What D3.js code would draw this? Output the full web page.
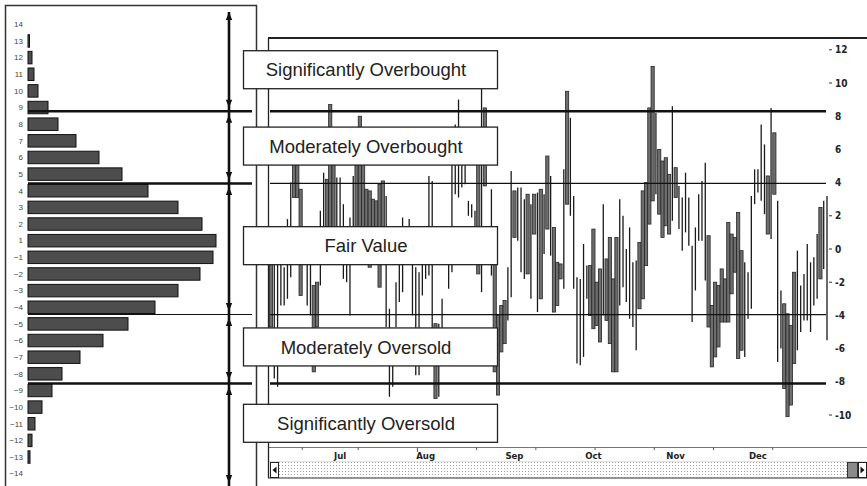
<!DOCTYPE html>
<html><head><meta charset="utf-8">
<script src="https://cdn.jsdelivr.net/npm/d3@7"></script>
<style>body{margin:0;background:#fff;} svg{display:block;}</style>
</head><body>
<svg id="c" width="867" height="486"></svg>
<script>
// ---------- data ----------
const histCats = [14,13,12,11,10,9,8,7,6,5,4,3,2,1,-1,-2,-3,-4,-5,-6,-7,-8,-9,-10,-11,-12,-13,-14];
const histCounts = [0,1.5,4,6,10,20,30,48,71,94,120,150,174,188,185,172,150,127,100,75,52,34,24,14,7,4,2,0];

const highs = [
 0.5,0.8,0.6,1.0,-1.1,1.8,4.0,6.5,6.0,3.6,
 1.2,1.0,0.9,-2.2,-2.0,2.3,4.6,4.2,8.7,6.5,
 4.3,4.3,2.7,0.5,1.9,4.4,6.5,8.0,6.8,3.6,
 3.5,3.0,2.9,3.9,4.1,3.2,-3.6,-5.0,-2.0,0.5,
 1.9,1.0,1.8,0.5,-1.1,-1.4,0.5,0.8,4.4,4.1,
 -4.5,-4.5,-3.0,1.0,1.0,6.0,7.5,9.0,6.5,6.0,
 2.9,2.7,2.3,6.0,10.5,8.5,1.0,3.6,0.5,-4.0,
 -3.4,-3.1,-1.1,4.7,3.5,3.7,3.7,3.0,3.3,2.7,
 3.3,3.4,3.6,3.3,5.6,4.4,1.3,-0.8,-0.9,4.8,
 9.5,7.9,3.2,-1.7,-1.8,0.3,-1.0,-1.0,1.2,-2.0,
 -1.2,2.7,-0.6,0.7,-1.8,0.7,3.0,2.0,0.0,1.3,
 -0.8,-0.7,0.4,3.5,4.0,8.5,11.0,8.2,6.0,5.3,
 5.5,4.5,8.6,4.9,3.8,3.1,4.6,3.1,0.2,1.3,
 3.3,4.1,5.2,0.8,-3.4,-2.0,-2.2,-1.2,-1.8,1.6,
 0.9,0.7,2.2,-0.1,-0.8,-1.4,3.2,4.8,4.8,7.5,
 6.3,4.4,8.5,7.0,2.9,-2.5,-3.3,-3.9,-4.6,-1.4,
 -0.1,-2.2,-1.5,0.3,-0.8,-0.5,0.9,2.5,2.9,3.2
];
const lows = [
 -4.7,-7.8,-8.3,-3.4,-3.4,-3.0,-1.7,3.1,3.1,-2.8,
 -0.8,-3.4,-4.0,-7.4,-4.7,-2.2,1.0,0.8,0.5,1.0,
 1.2,0.6,-1.8,-2.0,-4.0,0.8,1.0,1.2,0.8,1.0,
 -1.1,0.5,1.0,-2.3,0.8,-4.7,-8.9,-8.3,-4.7,-3.2,
 -2.6,-0.5,-0.5,-4.0,-7.6,-7.6,-2.8,-1.8,-1.6,-4.8,
 -9.0,-8.9,-5.5,-0.5,-2.4,-1.4,3.3,3.1,3.7,3.9,
 2.0,1.9,1.0,-1.5,-2.6,3.8,-0.5,-1.6,-7.4,-8.8,
 -6.2,-5.7,-4.3,-2.9,0.7,0.5,-1.4,-1.8,-1.5,-3.0,
 0.9,-3.8,-3.0,-0.3,1.2,-0.4,-3.8,-3.4,-1.8,-2.4,
 2.7,2.0,-2.4,-6.9,-7.0,-6.5,-3.0,-4.0,-4.8,-4.6,
 -5.6,-4.0,-4.3,-5.7,-7.4,-7.4,-3.4,-2.3,-3.2,-4.2,
 -4.7,-6.1,-3.6,-3.0,-1.0,1.5,2.9,3.3,2.1,0.7,
 1.4,0.9,1.7,3.1,1.2,-0.1,1.0,0.2,-4.4,-2.5,
 0.5,0.5,-1.9,-4.7,-7.1,-6.5,-5.9,-4.4,-4.4,-4.4,
 -2.7,-1.4,-6.6,-6.1,-6.5,-4.2,-3.6,2.7,3.4,2.9,
 2.1,0.9,0.6,3.3,-6.8,-6.0,-8.4,-10.1,-9.4,-6.9,
 -6.1,-5.0,-4.3,-4.3,-5.0,-3.4,-3.0,-1.8,-1.2,-5.5
];
// d = down session, u = up session
const sessions = (
 "duuuuuuddd" + "uuudduuddd" + "uuuuuudddd" + "ddddduuuuu" + "uuuuuuuuuu" +
 "duuuuuuuuu" + "uuududuudd" + "dduuduuudu" + "dudududddu" + "duuuuuuddd" +
 "dudddduuuu" + "uudddddudd" + "dduduuuuuu" + "uuuddddddd" + "dddduuuuuu" +
 "ududuudddd" + "uuuuuuuduu").split("");

const levels = [8.3, 3.95, -3.95, -8.1];
const zoneLabels = ["Significantly Overbought","Moderately Overbought","Fair Value","Moderately Oversold","Significantly Oversold"];
const zoneCenters = [10.8, 6.2, 0.2, -5.9, -10.5];
const yTicks = [12,10,8,6,4,2,0,-2,-4,-6,-8,-10];
const yTicksMarked = [12,10,2,0,-2,-10];
const months = ["Jul","Aug","Sep","Oct","Nov","Dec"];
const monthDays = [21,47,74,98,123,148];
const axisTickDays = [9.5,26.5,44.5,62.5,80.5,98.5,116.5,134.5,152.5];

// ---------- drawing ----------
const svg = d3.select("#c");
const y = d3.scaleLinear().domain([-10,12]).range([415,49.8]);
const x = d3.scaleLinear().domain([0, highs.length-1]).range([271,827]);
const hy = d3.scaleBand().domain(histCats).range([16,482]).paddingInner(0.25).paddingOuter(0.125);
const hx = d3.scaleLinear().domain([0,200]).range([28,228]);

const defs = svg.append("defs");
const pat = defs.append("pattern").attr("id","dots").attr("width",3).attr("height",3).attr("patternUnits","userSpaceOnUse");
pat.append("rect").attr("width",3).attr("height",3).attr("fill","#fff");
pat.append("rect").attr("width",1).attr("height",1).attr("fill","#a0a0a0");

// left panel
const left = svg.append("g");
left.append("rect").attr("x",5.5).attr("y",5.5).attr("width",251).attr("height",490)
  .attr("fill","none").attr("stroke","#333").attr("stroke-width",1.5);

left.selectAll("rect.hb").data(histCats.map((c,i)=>({c,v:histCounts[i]})).filter(d=>d.v>0))
  .enter().append("rect").attr("class","hb")
  .attr("x",hx(0)).attr("y",d=>hy(d.c)).attr("width",d=>hx(d.v)-hx(0)).attr("height",hy.bandwidth())
  .attr("fill","#4d4d4d").attr("stroke","#111").attr("stroke-width",1);

left.selectAll("text.hl").data(histCats).enter().append("text").attr("class","hl")
  .attr("x",23).attr("y",d=>hy(d)+hy.bandwidth()/2).attr("dy","0.35em")
  .attr("text-anchor","end").attr("font-family","Liberation Sans, Arial, sans-serif")
  .attr("font-size",8).attr("fill","#444")
  .text(d=> d<0 ? "\u2212"+Math.abs(d) : String(d));

const leftW = [2.6,2.4,1.1,2.6];
left.selectAll("line.lv").data(levels).enter().append("line")
  .attr("x1",28).attr("x2",252).attr("y1",d=>y(d)).attr("y2",d=>y(d))
  .attr("stroke","#111").attr("stroke-width",(d,i)=>leftW[i]);

// arrow axis
const ax = 229;
left.append("line").attr("x1",ax).attr("x2",ax).attr("y1",12).attr("y2",486)
  .attr("stroke","#111").attr("stroke-width",2.6);
function tri(tipY, dir){ // dir -1 up, +1 down
  const b = tipY - dir*8;
  return `M${ax},${tipY} L${ax-3.2},${b} L${ax+3.2},${b} Z`;
}
const tips = [[12,-1],[483,1]];
levels.forEach(L=>{ tips.push([y(L)-3.5,1]); tips.push([y(L)+3.5,-1]); });
left.selectAll("path.ar").data(tips).enter().append("path").attr("d",d=>tri(d[0],d[1])).attr("fill","#111");

// right chart
const right = svg.append("g");
// bottom time axis
right.append("line").attr("x1",268).attr("x2",867).attr("y1",447.5).attr("y2",447.5).attr("stroke","#777").attr("stroke-width",1);
right.append("rect").attr("x",279).attr("y",461.5).attr("width",568).attr("height",16).attr("fill","url(#dots)");
right.append("line").attr("x1",268).attr("x2",867).attr("y1",478).attr("y2",478).attr("stroke","#333").attr("stroke-width",1);
right.append("line").attr("x1",268).attr("x2",867).attr("y1",461.5).attr("y2",461.5).attr("stroke","#ccc").attr("stroke-width",0.6);
right.append("rect").attr("x",270.5).attr("y",462.5).attr("width",8).attr("height",15).attr("fill","#fff").attr("stroke","#222");
right.append("path").attr("d","M272.5,470 L276.5,466.5 L276.5,473.5 Z").attr("fill","#111");
right.append("rect").attr("x",847.5).attr("y",462.5).attr("width",10).attr("height",15).attr("fill","#8a8a8a").attr("stroke","#333");
right.append("rect").attr("x",858.5).attr("y",462.5).attr("width",8).attr("height",15).attr("fill","#fff").attr("stroke","#222");
right.append("path").attr("d","M864.5,470 L860.5,466.5 L860.5,473.5 Z").attr("fill","#111");
right.selectAll("line.at").data(axisTickDays).enter().append("line")
  .attr("x1",d=>x(d)).attr("x2",d=>x(d)).attr("y1",447.5).attr("y2",(d,i)=>i===2?452:450)
  .attr("stroke","#555").attr("stroke-width",1);
right.selectAll("text.mo").data(months).enter().append("text")
  .attr("x",(d,i)=>x(monthDays[i])).attr("y",458.5).attr("text-anchor","middle")
  .attr("font-family","DejaVu Sans Condensed, DejaVu Sans, sans-serif").attr("font-weight","bold")
  .attr("font-size",9.5).attr("fill","#222").text(d=>d);

// frame
right.append("line").attr("x1",268).attr("x2",867).attr("y1",38).attr("y2",38).attr("stroke","#222").attr("stroke-width",2);
right.append("line").attr("x1",268.5).attr("x2",268.5).attr("y1",38).attr("y2",478).attr("stroke","#222").attr("stroke-width",1.3);

// bars
const bars = highs.map((h,i)=>({i,h,l:lows[i],s:sessions[i]}));
right.selectAll("line.ub").data(bars.filter(d=>d.s==="u")).enter().append("line")
  .attr("x1",d=>x(d.i)).attr("x2",d=>x(d.i)).attr("y1",d=>y(d.h)).attr("y2",d=>y(d.l))
  .attr("stroke","#1a1a1a").attr("stroke-width",1.3);
right.selectAll("rect.db").data(bars.filter(d=>d.s==="d")).enter().append("rect")
  .attr("x",d=>x(d.i)-1.6).attr("width",3.2).attr("y",d=>y(d.h)).attr("height",d=>y(d.l)-y(d.h))
  .attr("fill","#6e6e6e").attr("stroke","#262626").attr("stroke-width",0.8);

// level lines
const rightW = [2.6,1.3,1.3,2.6];
right.selectAll("line.rl").data(levels).enter().append("line")
  .attr("x1",270).attr("x2",826).attr("y1",d=>y(d)).attr("y2",d=>y(d))
  .attr("stroke","#111").attr("stroke-width",(d,i)=>rightW[i]);

// y axis labels
right.selectAll("line.yt").data(yTicksMarked).enter().append("line")
  .attr("x1",829).attr("x2",832).attr("y1",d=>y(d)).attr("y2",d=>y(d)).attr("stroke","#333").attr("stroke-width",1);
right.selectAll("text.yl").data(yTicks).enter().append("text")
  .attr("x",835).attr("y",d=>y(d)).attr("dy","0.35em")
  .attr("font-family","DejaVu Sans Condensed, DejaVu Sans, sans-serif").attr("font-weight","bold")
  .attr("font-size",10).attr("fill","#222").text(d=>String(d));

// zone label boxes
const boxH = 38;
const zg = svg.append("g");
zoneLabels.forEach((t,i)=>{
  const cy = y(zoneCenters[i]);
  zg.append("rect").attr("x",243.5).attr("y",cy-boxH/2).attr("width",254).attr("height",boxH)
    .attr("fill","#fff").attr("stroke","#222").attr("stroke-width",1.3);
  zg.append("text").attr("x",366).attr("y",cy).attr("dy","0.36em").attr("text-anchor","middle")
    .attr("font-family","Liberation Sans, Arial, sans-serif").attr("font-size",18.5).attr("fill","#222").text(t);
});
</script>
</body></html>
